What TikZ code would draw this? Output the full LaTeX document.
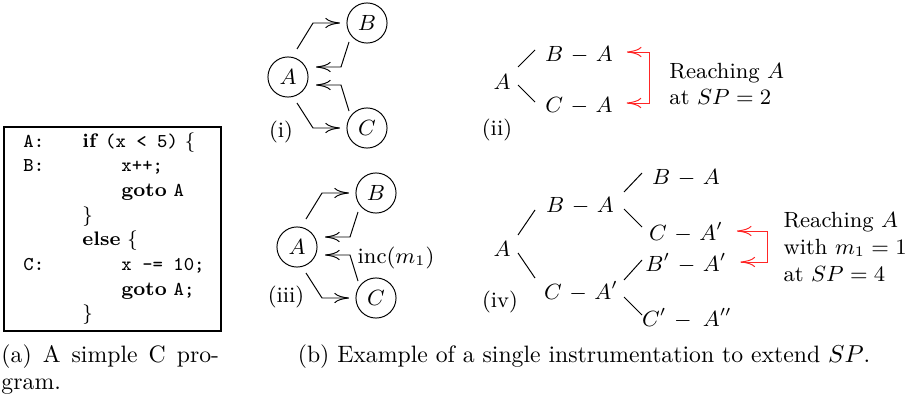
\documentclass[tikz,border=0pt]{standalone}
\usetikzlibrary{arrows.meta}
\colorlet{alertred}{red!85!white}
\begin{document}
\begin{tikzpicture}[x=0.409pt,y=-0.409pt,
		state/.style={circle,draw,minimum size=16.4pt,inner sep=0pt,font=\small},
		flow/.style={-{Computer Modern Rightarrow[length=6pt,width=4.2pt]}},
		seq/.style={inner xsep=3.5pt,inner ysep=0.5pt,text height=7.5pt,text depth=0pt,font=\small},
		alert/.style={alertred,shorten <=2pt,shorten >=2pt,
			{Computer Modern Rightarrow[length=6pt,width=4.2pt]}-{Computer Modern Rightarrow[length=6pt,width=4.2pt]}},
		note/.style={align=left,inner sep=0pt,font=\small},
		code/.style={font=\footnotesize,inner sep=0pt,anchor=base west},
		capt/.style={font=\fontsize{9.7pt}{11pt}\selectfont,inner sep=0pt,anchor=base west}]
	\useasboundingbox (0,0) rectangle (912,399);
	% program
	\draw[line width=0.8pt] (4,127) rectangle (221,331);
	\foreach \y/\lbl/\x/\stmt in {147/A:/82/{\textbf{if} \texttt{(x < 5)} \{},
			171/B:/121/{\texttt{x++;}},
			196/{}/121/{\textbf{goto} \texttt{A}},
			221/{}/82/{\}},
			245/{}/82/{\textbf{else} \{},
			270/C:/121/{\texttt{x -= 10;}},
			295/{}/121/{\textbf{goto} \texttt{A;}},
			319/{}/82/{\}}}{
		\node[code] (lbl\y) at (23,\y) {\texttt{\lbl}};
		\node[code] (stmt\y) at (\x,\y) {\stmt};
	}
	\node[capt] (capa) at (1,362) {\makebox[89pt][s]{(a) A simple C pro-}};
	\node[capt] (capa2) at (1,389) {gram.};
	% graphs (i) and (iii)
	\foreach \g/\x/\y in {i/288/77,iii/297/247}{
		\node[state] (A\g) at (\x,\y) {$A$};
		\node[state] (B\g) at (\x+79,\y-54) {$B$};
		\node[state] (C\g) at (\x+79,\y+51) {$C$};
		\draw[flow] ([shift={(9,-28)}]A\g.center) -- ++(16,-26) -- ([shift={(-27,0)}]B\g.center);
		\draw[flow] ([shift={(-18,19)}]B\g.center) -- ++(-8,25) -- ([shift={(28,-10)}]A\g.center);
		\draw[flow] ([shift={(-18,-17)}]C\g.center) -- ++(-8,-26) -- ([shift={(28,8)}]A\g.center);
		\draw[flow] ([shift={(9,26)}]A\g.center) -- ++(16,25) -- ([shift={(-27,0)}]C\g.center);
	}
	\node[font=\small] (tagi) at (281,132) {(i)};
	\node[font=\small] (tagiii) at (286,297) {(iii)};
	\node[font=\small] (inc) at (396,258) {inc$(m_1)$};
	% tree (ii)
	\node[seq] (rA2) at (502,80) {$A$};
	\node[seq] (cB2) at (579,52) {$B$ $-$ $A$};
	\node[seq] (cC2) at (579,103) {$C$ $-$ $A$};
	\draw ([shift={(16,-13)}]rA2.center) -- ([shift={(-44,-2)}]cB2.center);
	\draw ([shift={(16,5)}]rA2.center) -- ([shift={(-44,-1)}]cC2.center);
	\draw[alert] (cB2.east) -- ++(28,0) |- (cC2.east);
	\node[note,anchor=west] (reach2) at (669,84) {Reaching $A$\\at $SP=2$};
	\node[font=\small] (tagii) at (497,130) {(ii)};
	% tree (iv)
	\node[seq] (rA4) at (502,247) {$A$};
	\node[seq] (cB4) at (580,203) {$B$ $-$ $A$};
	\node[seq] (cC4) at (581,290) {$C$ $-$ $A'$};
	\node[seq] (gB4) at (686,175) {$B$ $-$ $A$};
	\node[seq] (gC4) at (686,231) {$C$ $-$ $A'$};
	\node[seq] (gBp4) at (686,262) {$B'$ $-$ $A'$};
	\node[seq] (gCp4) at (687,317) {$C'$ $-$ \,$A''$};
	\draw ([shift={(16,-12)}]rA4.center) -- ([shift={(-45,7)}]cB4.center);
	\draw ([shift={(16,6)}]rA4.center) -- ([shift={(-46,-12)}]cC4.center);
	\draw ([shift={(44,-11)}]cB4.center) -- ([shift={(-44,-2)}]gB4.center);
	\draw ([shift={(44,6)}]cB4.center) -- ([shift={(-44,-4)}]gC4.center);
	\draw ([shift={(43,-10)}]cC4.center) -- ([shift={(-44,-2)}]gBp4.center);
	\draw ([shift={(43,7)}]cC4.center) -- ([shift={(-45,-2)}]gCp4.center);
	\draw[alert] (gC4.east) -- ++(35,0) |- (gBp4.east);
	\node[note,anchor=west] (reach4) at (783,247) {Reaching $A$\\with $m_1=1$\\at $SP=4$};
	\node[font=\small] (tagiv) at (500,302) {(iv)};
	\node[capt,anchor=base] (capb) at (584,362) {(b) Example of a single instrumentation to extend $SP$.};
\end{tikzpicture}
\end{document}
